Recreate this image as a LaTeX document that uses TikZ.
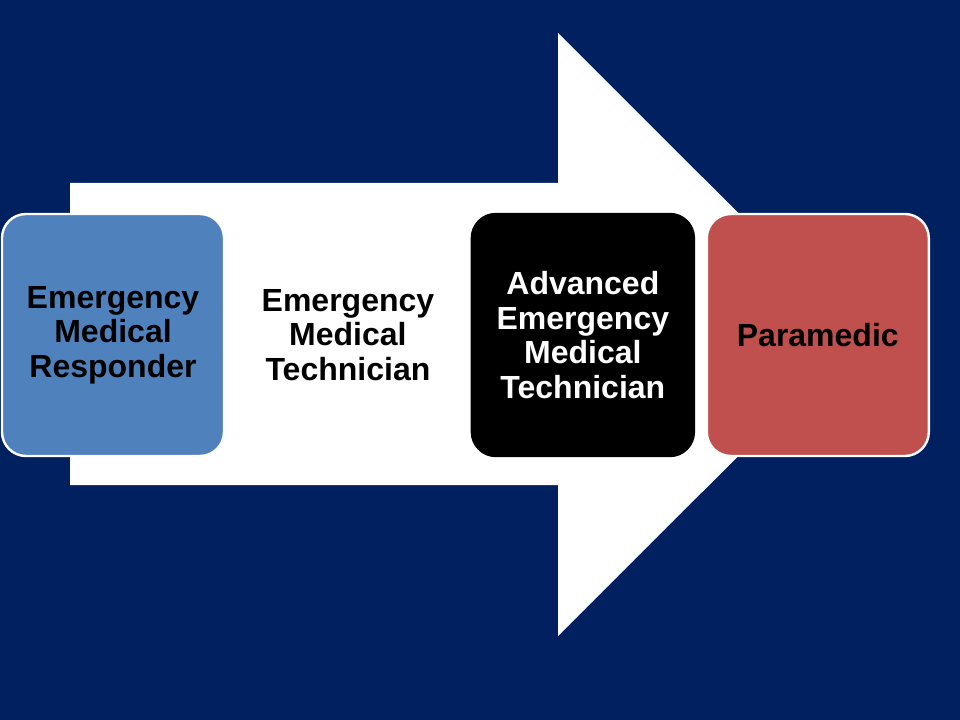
\documentclass[tikz,border=0pt]{standalone}
\usepackage{fontspec}
\setmainfont{Liberation Sans}
\usetikzlibrary{positioning}
\definecolor{navy}{RGB}{0,32,96}
\definecolor{stepblue}{RGB}{79,129,189}
\definecolor{stepred}{RGB}{192,80,77}
\tikzset{levelbox/.style={rounded corners=18pt,draw=white,line width=1.8pt,
    minimum width=166.5pt,minimum height=181.5pt,align=center,
    font=\fontsize{24}{25.9}\selectfont\bfseries}}

\begin{document}
\begin{tikzpicture}[x=0.75pt,y=-0.75pt,node distance=7.9pt]
  \fill[navy] (0,0) rectangle (960,720); \useasboundingbox (0,0)
  rectangle (960,720);
  % big arrow behind the levels
  \fill[white] (70,183) -- (558,183) -- (558,33) -- (860,334.5) --
  (558,636) -- (558,485) -- (70,485) -- cycle;
  \node[levelbox,fill=stepblue] (emr) at (113,335)
  {Emergency\\Medical\\Responder}; \node[levelbox,fill=white,right=of
  emr] (emt) {Emergency\\Medical\\Technician};
  \node[levelbox,fill=black,draw=black,text=white,right=of emt] (aemt)
  {Advanced\\Emergency\\Medical\\Technician};
  \node[levelbox,fill=stepred,right=of aemt] (para) {Paramedic};
\end{tikzpicture}
\end{document}
